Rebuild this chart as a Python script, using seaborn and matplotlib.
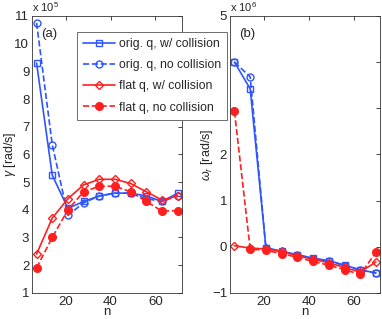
import numpy as np
import pandas as pd
import matplotlib
matplotlib.use("Agg")
import matplotlib.pyplot as plt
import seaborn as sns

# mode number
n_vals = [7, 14, 21, 28, 35, 42, 49, 56, 63, 70]

# growth rate gamma (x 1e5 rad/s)
gam_orig_coll = [9.3, 5.25, 4.05, 4.3, 4.5, 4.6, 4.6, 4.5, 4.3, 4.6]
gam_orig_nocoll = [10.75, 6.35, 3.8, 4.25, 4.5, 4.6, 4.6, 4.4, 4.3, 4.5]
gam_flat_coll = [2.4, 3.7, 4.4, 4.9, 5.1, 5.1, 4.95, 4.65, 4.35, 4.5]
gam_flat_nocoll = [1.9, 3.0, 4.0, 4.65, 4.85, 4.85, 4.65, 4.3, 3.95, 3.97]

# real frequency omega_r (x 1e6 rad/s)
om_orig_coll = [4.0, 3.42, -0.02, -0.1, -0.17, -0.25, -0.3, -0.4, -0.5, -0.57]
om_orig_nocoll = [4.0, 3.68, -0.03, -0.11, -0.18, -0.26, -0.31, -0.41, -0.51, -0.57]
om_flat_coll = [0.02, -0.03, -0.05, -0.1, -0.2, -0.27, -0.35, -0.45, -0.55, -0.33]
om_flat_nocoll = [2.93, -0.05, -0.08, -0.15, -0.23, -0.32, -0.4, -0.5, -0.6, -0.12]

labels = ["orig. q, w/ collision", "orig. q, no collision",
          "flat q, w/ collision", "flat q, no collision"]

sns.set_style("white")
plt.rcParams['font.family'] = ['Liberation Sans', 'DejaVu Sans']
plt.rcParams['mathtext.fontset'] = 'custom'
plt.rcParams['mathtext.rm'] = 'Liberation Sans'
plt.rcParams['mathtext.it'] = 'Liberation Sans:italic'
plt.rcParams['font.size'] = 9.5

blue = '#2f55ff'
red = '#ff1f1f'
styles = [
    dict(color=blue, linestyle='-', marker='s', markerfacecolor='none'),
    dict(color=blue, linestyle='--', marker='o', markerfacecolor='none'),
    dict(color=red, linestyle='-', marker='D', markerfacecolor='none', markersize=4.5),
    dict(color=red, linestyle='--', marker='o', markerfacecolor=red, markersize=5.5),
]

fig = plt.figure(figsize=(3.82, 3.19), dpi=100)
ax1 = fig.add_axes([0.084, 0.082, 0.393, 0.868])
ax2 = fig.add_axes([0.602, 0.082, 0.394, 0.868])


def draw(ax, series):
    for vals, lab, st in zip(series, labels, styles):
        df = pd.DataFrame({"n": n_vals, "v": vals})
        kw = dict(markersize=5, markeredgewidth=1.0, linewidth=1.2)
        kw.update(st)
        sns.lineplot(data=df, x="n", y="v", ax=ax, label=lab,
                     markeredgecolor=st['color'], **kw)
    ax.get_legend().remove()
    ax.set_xlim(5, 72)
    ax.set_xticks([20, 40, 60])
    ax.set_xlabel("n", labelpad=-1)
    ax.tick_params(direction='in', top=True, right=True, length=3, width=0.6,
                   labelsize=9.5, pad=2)
    for sp in ax.spines.values():
        sp.set_linewidth(0.6)
        sp.set_color('#333333')


draw(ax1, [gam_orig_coll, gam_orig_nocoll, gam_flat_coll, gam_flat_nocoll])
ax1.set_ylim(1, 11)
ax1.set_yticks(range(1, 12))
ax1.set_ylabel(r"$\gamma$ [rad/s]", fontsize=9)
ax1.yaxis.set_label_coords(-0.095, 0.5)
ax1.text(0.0, 1.008, r"x 10$^5$", transform=ax1.transAxes, fontsize=8,
         ha='left', va='bottom')
ax1.text(0.06, 0.955, "(a)", transform=ax1.transAxes, fontsize=9.5, va='top')

draw(ax2, [om_orig_coll, om_orig_nocoll, om_flat_coll, om_flat_nocoll])
ax2.set_ylim(-1, 5)
ax2.set_yticks(range(-1, 6))
ax2.set_yticklabels(['\u22121'] + [str(i) for i in range(0, 6)])
ax2.set_ylabel(r"$\omega_r$ [rad/s]", fontsize=9)
ax2.yaxis.set_label_coords(-0.1, 0.5)
ax2.text(0.0, 1.008, r"x 10$^6$", transform=ax2.transAxes, fontsize=8,
         ha='left', va='bottom')
ax2.text(0.06, 0.955, "(b)", transform=ax2.transAxes, fontsize=9.5, va='top')

handles = ax1.get_lines()[:4]
leg = fig.legend(handles, labels, loc='upper left',
                 bbox_to_anchor=(77 / 382, 1 - 32 / 319), fontsize=8.8,
                 frameon=True, fancybox=False, edgecolor='#555555',
                 framealpha=1, borderpad=0.5, labelspacing=0.75,
                 handlelength=2.6, handletextpad=0.3, borderaxespad=0)
leg.get_frame().set_linewidth(0.6)

fig.savefig("out.png", dpi=100)
